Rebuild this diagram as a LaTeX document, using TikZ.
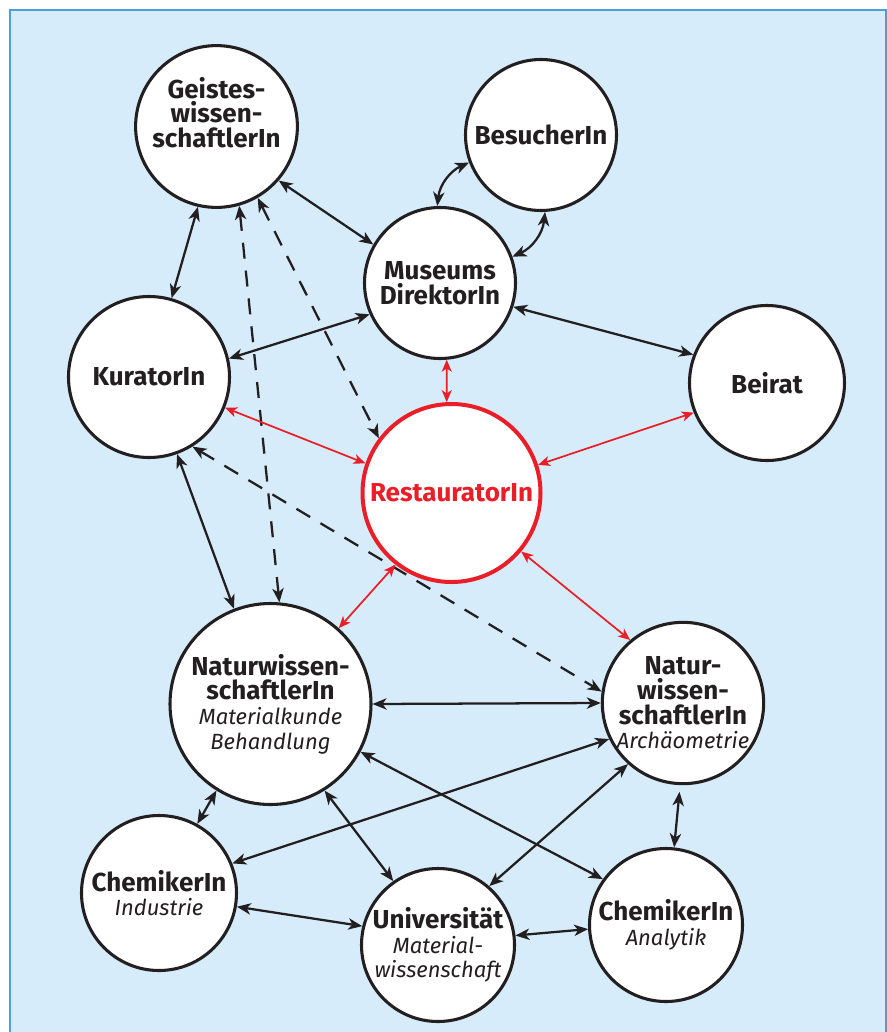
\documentclass[tikz,border=0pt]{standalone}
\usepackage{fontspec}
\setmainfont{Fira Sans}
\usetikzlibrary{arrows.meta}

\definecolor{ink}{RGB}{35,31,32}
\definecolor{rot}{RGB}{234,30,40}
\definecolor{himmel}{RGB}{214,236,250}
\definecolor{rahmen}{RGB}{70,160,220}

\tikzset{
  rolle/.style={circle, draw=ink, line width=2.3pt, fill=white, inner sep=0pt,
    align=center, text=ink, font=\bfseries\fontsize{19.5}{18.5}\selectfont},
  bez/.style={<->, draw=ink, line width=1.7pt},
  vage/.style={bez, dash pattern=on 12pt off 9pt},
  kern/.style={<->, >={Stealth[length=9pt,width=7.5pt,inset=2.5pt]}, draw=rot, line width=1.3pt},
}
\newcommand{\zusatz}[1]{{\mdseries\itshape\fontsize{16.5}{18.5}\selectfont #1}}

\begin{document}
\begin{tikzpicture}[x=0.75pt, y=-0.75pt, >={Stealth[length=10.5pt,width=8.5pt,inset=3pt]}]
  \useasboundingbox (0,0) rectangle (887,1032);
  \fill[white] (0,0) rectangle (887,1032);
  \draw[rahmen, fill=himmel, line width=1.5pt] (10,9.5) rectangle (886,1045);

  % Personen
  \node[rolle, minimum size=119.25pt] (geist) at (216.5,126.5) {Geistes-\\wissen-\\schaftlerIn\\[3pt]};
  \node[rolle, minimum size=113.25pt] (besuch) at (541,135) {BesucherIn};
  \node[rolle, minimum size=113.25pt] (museum) at (440,283) {Museums\\DirektorIn};
  \node[rolle, minimum size=120.75pt] (kurator) at (149,377) {KuratorIn};
  \node[rolle, minimum size=116.25pt] (beirat) at (767,383) {Beirat};
  \node[rolle, draw=rot, text=rot, line width=3pt, minimum size=133.5pt] (rest) at (451.5,493) {RestauratorIn};
  \node[rolle, minimum size=150.75pt] (natmat) at (270.5,704) {Naturwissen-\\schaftlerIn\\\zusatz{Materialkunde}\\\zusatz{Behandlung}};
  \node[rolle, minimum size=114.75pt] (natarch) at (683,703) {Natur-\\wissen-\\schaftlerIn\\\zusatz{Archäometrie}};
  \node[rolle, minimum size=116.25pt] (chemind) at (159,893) {ChemikerIn\\\zusatz{Industrie}};
  \node[rolle, minimum size=114.75pt] (uni) at (438,945) {Universität\\\zusatz{Material-}\\\zusatz{wissenschaft}};
  \node[rolle, minimum size=114.75pt] (chemana) at (666,925) {ChemikerIn\\\zusatz{Analytik}};

  % Beziehungen
  \draw[bez] (geist.257) -- (kurator.74);
  \draw[vage] (geist.286) -- (natmat.85);
  \draw[vage] (geist.300) -- (rest.143.5);
  \draw[bez] (geist.319.5) -- (museum.150);
  \draw[bez] (museum.92) to[bend left=30] (besuch.201);
  \draw[bez] (museum.20) to[bend right=30] (besuch.273);
  \draw[bez] (museum.204) -- (kurator.13.5);
  \draw[bez] (museum.342) -- (beirat.159.5);
  \draw[bez] (kurator.290) -- (natmat.111.5);
  \draw[vage] (kurator.302.5) -- (natarch.172);
  \draw[bez] (natmat.0.5) -- (natarch.180);
  \draw[bez] (natmat.238) -- (chemind.61);
  \draw[bez] (natmat.302) -- (uni.125);
  \draw[bez] (natmat.332) -- (chemana.144);
  \draw[bez] (natarch.206) -- (chemind.22);
  \draw[bez] (natarch.228) -- (uni.49);
  \draw[bez, shorten <=5pt] (natarch.268) -- (chemana.84);
  \draw[bez] (chemind.350) -- (uni.166);
  \draw[bez] (uni.7) -- (chemana.183.5);

  % RestauratorIn
  \draw[kern] (museum.275) -- (rest.93);
  \draw[kern] (kurator.338) -- (rest.161.5);
  \draw[kern] (beirat.202) -- (rest.18.5);
  \draw[kern] (rest.232.5) -- (natmat.48.5);
  \draw[kern] (rest.320.5) -- (natarch.130);
\end{tikzpicture}
\end{document}
